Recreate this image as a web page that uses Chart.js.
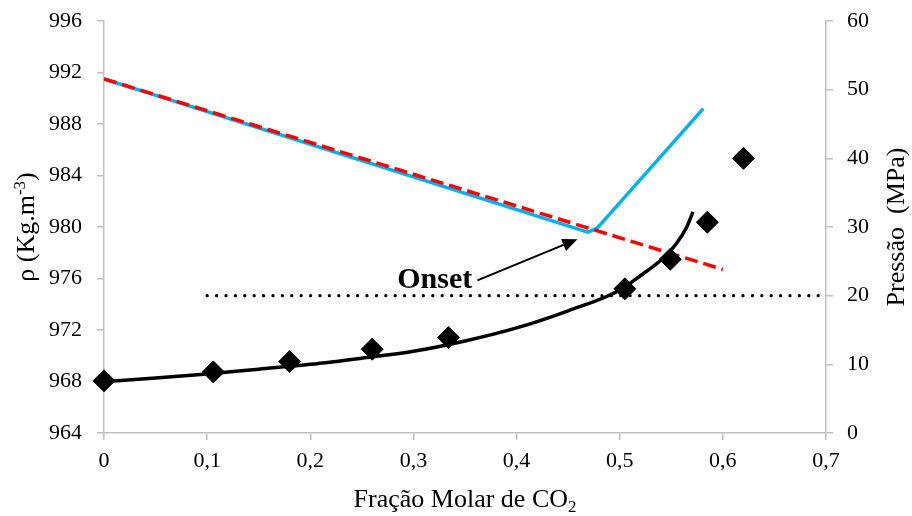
<!DOCTYPE html>
<html>
<head>
<meta charset="utf-8">
<script src="https://cdn.jsdelivr.net/npm/chart.js@4.4.1/dist/chart.umd.min.js"></script>
<style>
  html, body { margin: 0; padding: 0; background: #fff; }
  #wrap { width: 912px; height: 516px; position: relative; }
</style>
</head>
<body>
<div id="wrap"><canvas id="chart" width="912" height="516"></canvas></div>
<script>
// Chart data
const densX = [0, 0.469, 0.478, 0.581];            // simulated density (cyan)
const densRho = [991.5, 979.6, 979.9, 989.2];
const idealX = [0, 0.6];                           // linear trend (red dashed)
const idealRho = [991.5, 976.7];
const fitX = [0, 0.05, 0.1, 0.15, 0.2, 0.25, 0.3, 0.35, 0.4, 0.45, 0.5, 0.52, 0.54, 0.555, 0.565, 0.571];
const fitP = [7.5, 8.0, 8.6, 9.3, 10.0, 10.9, 11.9, 13.4, 15.3, 17.8, 20.8, 22.9, 25.2, 27.6, 30.0, 32.2];
const expX = [0, 0.106, 0.180, 0.260, 0.334, 0.505, 0.549, 0.585, 0.620];
const expP = [7.6, 8.9, 10.4, 12.2, 13.9, 21.0, 25.3, 30.7, 40.0];
const onsetX = [0.1, 0.7];
const onsetP = [20, 20];

const rhoTicks = [964, 968, 972, 976, 980, 984, 988, 992, 996];
const presTicks = [0, 10, 20, 30, 40, 50, 60];
const fracTicks = [0, 0.1, 0.2, 0.3, 0.4, 0.5, 0.6, 0.7];

const SERIF = "'Liberation Serif', 'Times New Roman', serif";
const AXIS_GRAY = '#bfbfbf';

function toPoints(xs, ys) {
    return xs.map((x, i) => ({ x: x, y: ys[i] }));
}

// draws text made of pieces: {t, sub, sup}
function drawRich(ctx, pieces, size, cx, cy, rotate) {
    ctx.save();
    ctx.translate(cx, cy);
    if (rotate) ctx.rotate(-Math.PI / 2);
    let total = 0;
    pieces.forEach(p => {
        const s = (p.sub || p.sup) ? size * 0.65 : size;
        ctx.font = s + 'px ' + SERIF;
        p.w = ctx.measureText(p.t).width;
        total += p.w;
    });
    let x = -total / 2;
    ctx.fillStyle = '#000';
    ctx.textBaseline = 'alphabetic';
    ctx.textAlign = 'left';
    pieces.forEach(p => {
        const s = (p.sub || p.sup) ? size * 0.65 : size;
        ctx.font = s + 'px ' + SERIF;
        let dy = 0;
        if (p.sup) dy = -size * 0.36;
        if (p.sub) dy = size * 0.2;
        ctx.fillText(p.t, x, dy);
        x += p.w;
    });
    ctx.restore();
}

const titlesPlugin = {
    id: 'titles',
    afterDraw(chart) {
        const ctx = chart.ctx;
        const area = chart.chartArea;
        const midY = (area.top + area.bottom) / 2;
        const midX = (area.left + area.right) / 2;

        drawRich(ctx, [{ t: 'ρ (Kg.m' }, { t: '-3', sup: true }, { t: ')' }], 26, 34, midY, true);
        drawRich(ctx, [{ t: 'Pressão  (MPa)' }], 26, 904, midY, true);
        drawRich(ctx, [{ t: 'Fração Molar de CO' }, { t: '2', sub: true }], 26, midX, 507, false);

        // Onset label and arrow
        const xs = chart.scales.x, ys = chart.scales.y;
        const tx = xs.getPixelForValue(0.362), ty = ys.getPixelForValue(975.85);
        const hx = xs.getPixelForValue(0.459), hy = ys.getPixelForValue(979.05);
        ctx.save();
        ctx.strokeStyle = '#000';
        ctx.fillStyle = '#000';
        ctx.lineWidth = 2;
        const ang = Math.atan2(hy - ty, hx - tx);
        const headLen = 15, headW = 6.5;
        const bx = hx - Math.cos(ang) * headLen, by = hy - Math.sin(ang) * headLen;
        ctx.beginPath();
        ctx.moveTo(tx, ty);
        ctx.lineTo(bx, by);
        ctx.stroke();
        ctx.beginPath();
        ctx.moveTo(hx, hy);
        ctx.lineTo(bx + Math.sin(ang) * headW, by - Math.cos(ang) * headW);
        ctx.lineTo(bx - Math.sin(ang) * headW, by + Math.cos(ang) * headW);
        ctx.closePath();
        ctx.fill();
        ctx.font = 'bold 30px ' + SERIF;
        ctx.textAlign = 'right';
        ctx.textBaseline = 'alphabetic';
        ctx.fillText('Onset', xs.getPixelForValue(0.357), ys.getPixelForValue(975.3));
        ctx.restore();
    }
};

function commaLabel(v) {
    return v === 0 ? '0' : v.toFixed(1).replace('.', ',');
}

function fitVertical(width) {
    return s => {
        s.width = width;
        s.paddingTop = 0;
        s.paddingBottom = 0;
    };
}

const config = {
    type: 'scatter',
    data: {
        datasets: [
            {
                label: 'Experimental',
                data: toPoints(expX, expP),
                yAxisID: 'y1',
                showLine: false,
                pointStyle: 'rectRot',
                pointRadius: 11,
                backgroundColor: '#000',
                borderColor: '#000',
                borderWidth: 1,
                clip: false,
                order: 0
            },
            {
                label: 'Ajuste',
                data: toPoints(fitX, fitP),
                yAxisID: 'y1',
                showLine: true,
                cubicInterpolationMode: 'monotone',
                borderColor: '#000',
                borderWidth: 3.5,
                pointRadius: 0,
                clip: false,
                order: 1
            },
            {
                label: 'Linear',
                data: toPoints(idealX, idealRho),
                yAxisID: 'y',
                showLine: true,
                borderColor: '#ff0000',
                borderWidth: 3.5,
                borderDash: [13, 6],
                pointRadius: 0,
                order: 2
            },
            {
                label: 'Densidade',
                data: toPoints(densX, densRho),
                yAxisID: 'y',
                showLine: true,
                borderColor: '#00b0f0',
                borderWidth: 3.5,
                borderJoinStyle: 'round',
                pointRadius: 0,
                order: 3
            },
            {
                label: 'Onset',
                data: toPoints(onsetX, onsetP),
                yAxisID: 'y1',
                showLine: true,
                borderColor: '#000',
                borderWidth: 3.2,
                borderDash: [0.1, 9.3],
                borderCapStyle: 'round',
                pointRadius: 0,
                clip: false,
                order: 4
            }
        ]
    },
    options: {
        responsive: false,
        animation: false,
        layout: { padding: { top: 21, left: 0, right: 0, bottom: 0 } },
        plugins: {
            legend: { display: false },
            tooltip: { enabled: false }
        },
        scales: {
            x: {
                type: 'linear',
                min: 0,
                max: 0.7,
                afterFit: s => { s.height = 83; s.paddingLeft = 0; s.paddingRight = 0; },
                afterBuildTicks: s => { s.ticks = fracTicks.map(v => ({ value: v })); },
                border: { color: AXIS_GRAY, width: 1.5 },
                grid: { drawOnChartArea: false, color: AXIS_GRAY, tickLength: 7, lineWidth: 1.5 },
                ticks: {
                    color: '#000',
                    padding: 8,
                    maxRotation: 0,
                    font: { family: SERIF, size: 22 },
                    callback: v => commaLabel(v)
                }
            },
            y: {
                type: 'linear',
                position: 'left',
                min: 964,
                max: 996,
                afterFit: fitVertical(104),
                afterBuildTicks: s => { s.ticks = rhoTicks.map(v => ({ value: v })); },
                border: { color: AXIS_GRAY, width: 1.5 },
                grid: { drawOnChartArea: false, color: AXIS_GRAY, tickLength: 7, lineWidth: 1.5 },
                ticks: {
                    color: '#000',
                    padding: 15,
                    font: { family: SERIF, size: 22 }
                }
            },
            y1: {
                type: 'linear',
                position: 'right',
                min: 0,
                max: 60,
                afterFit: fitVertical(86),
                afterBuildTicks: s => { s.ticks = presTicks.map(v => ({ value: v })); },
                border: { color: AXIS_GRAY, width: 1.5 },
                grid: { drawOnChartArea: false, color: AXIS_GRAY, tickLength: 7, lineWidth: 1.5 },
                ticks: {
                    color: '#000',
                    padding: 14,
                    font: { family: SERIF, size: 22 }
                }
            }
        }
    },
    plugins: [titlesPlugin]
};

new Chart(document.getElementById('chart'), config);
</script>
</body>
</html>
